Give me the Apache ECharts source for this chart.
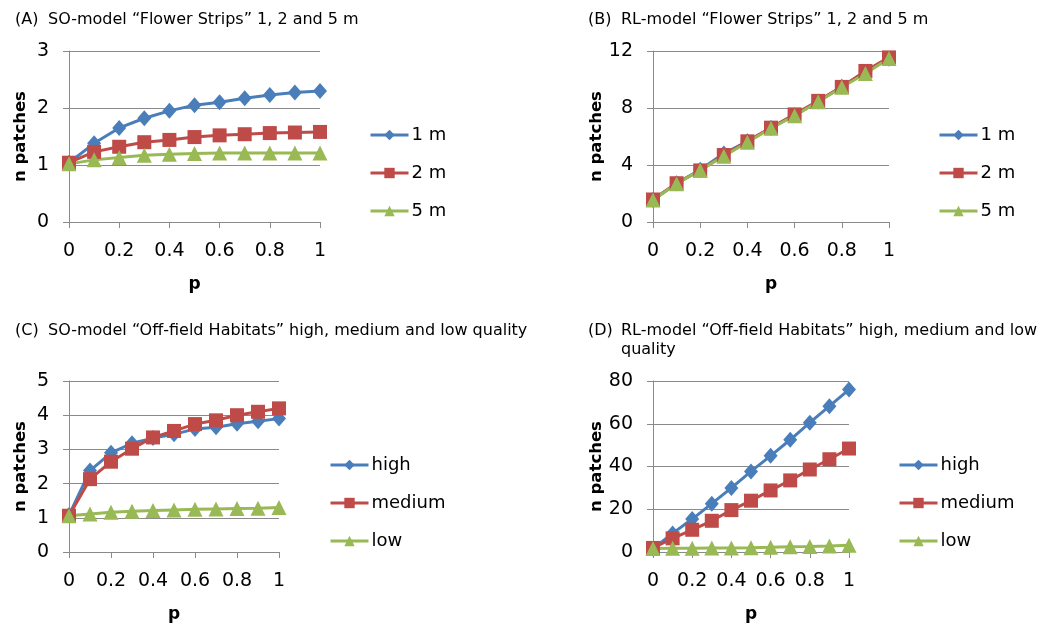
<!DOCTYPE html>
<html>
<head>
<meta charset="utf-8">
<script src="https://cdn.jsdelivr.net/npm/echarts@6/dist/echarts.min.js"></script>
<style>
  html, body { margin: 0; padding: 0; background: #fff; }
  #chart { width: 1051px; height: 625px; }
</style>
</head>
<body>
<div id="chart"></div>
<script>
var p = [0, 0.1, 0.2, 0.3, 0.4, 0.5, 0.6, 0.7, 0.8, 0.9, 1]

// (A) SO-model flower strips
var soStrip1 = [1.04, 1.38, 1.65, 1.82, 1.95, 2.05, 2.1, 2.17, 2.23, 2.27, 2.3]
var soStrip2 = [1.04, 1.23, 1.32, 1.4, 1.44, 1.49, 1.52, 1.54, 1.56, 1.57, 1.58]
var soStrip5 = [1.02, 1.09, 1.13, 1.17, 1.19, 1.2, 1.21, 1.21, 1.21, 1.21, 1.21]

// (B) RL-model flower strips
var rlStrip1 = [1.55, 2.72, 3.66, 4.8, 5.66, 6.6, 7.5, 8.45, 9.5, 10.55, 11.45]
var rlStrip2 = [1.58, 2.72, 3.62, 4.7, 5.66, 6.62, 7.55, 8.5, 9.48, 10.6, 11.55]
var rlStrip5 = [1.55, 2.68, 3.64, 4.62, 5.6, 6.58, 7.46, 8.44, 9.46, 10.42, 11.48]

// (C) SO-model off-field habitats
var soHigh = [1.08, 2.38, 2.9, 3.18, 3.33, 3.44, 3.6, 3.65, 3.75, 3.82, 3.9]
var soMedium = [1.06, 2.13, 2.64, 3.02, 3.35, 3.54, 3.74, 3.85, 4.0, 4.1, 4.2]
var soLow = [1.06, 1.11, 1.16, 1.19, 1.21, 1.23, 1.25, 1.26, 1.27, 1.28, 1.3]

// (D) RL-model off-field habitats
var rlHigh = [1.5, 8.7, 15.4, 22.6, 30.0, 37.7, 45.0, 52.5, 60.5, 68.2, 76.0]
var rlMedium = [1.9, 6.4, 10.4, 14.6, 19.6, 24.0, 28.8, 33.5, 38.6, 43.4, 48.4]
var rlLow = [1.6, 1.7, 1.7, 1.9, 1.9, 2.0, 2.2, 2.5, 2.6, 2.8, 3.1]

var yMax = [3, 12, 5, 80]
var yStep = [1, 4, 1, 20]

var stripNames = ['1 m', '2 m', '5 m']
var habitatNames = ['high', 'medium', 'low']

var BLUE = '#4a7ebb'
var RED = '#be4b48'
var GREEN = '#98b954'
var AXIS = '#8a8a8a'
var FONT = 'DejaVu Sans'

var grids = [
  { left: 69, top: 51, width: 251, height: 171 },
  { left: 653, top: 51, width: 236, height: 171 },
  { left: 69, top: 381, width: 210, height: 171 },
  { left: 653, top: 381, width: 196, height: 171 }
]

var pairs = function (vals) {
  return vals.map(function (v, i) { return [p[i], v] })
}

var xAxes = grids.map(function (g, i) {
  return {
    type: 'value',
    gridIndex: i,
    min: 0,
    max: 1,
    interval: 0.2,
    name: 'p',
    nameLocation: 'middle',
    nameGap: 54,
    nameTextStyle: { fontFamily: FONT, fontWeight: 'bold', fontSize: 17, color: '#000' },
    axisLine: { show: true, lineStyle: { color: AXIS, width: 1 } },
    axisTick: { show: true, length: 6, lineStyle: { color: AXIS } },
    axisLabel: { margin: 20, fontFamily: FONT, fontSize: 19, color: '#000' },
    splitLine: { show: false }
  }
})

var yAxes = grids.map(function (g, i) {
  return {
    type: 'value',
    gridIndex: i,
    min: 0,
    max: yMax[i],
    interval: yStep[i],
    name: 'n patches',
    nameLocation: 'middle',
    nameGap: 40,
    nameTextStyle: { fontFamily: FONT, fontWeight: 'bold', fontSize: 16.5, color: '#000' },
    axisLine: { show: true, lineStyle: { color: AXIS, width: 1 } },
    axisTick: { show: true, length: 6, lineStyle: { color: AXIS } },
    axisLabel: { margin: 20, fontFamily: FONT, fontSize: 19, color: '#000' },
    splitLine: { show: true, lineStyle: { color: AXIS, width: 1 } }
  }
})

var makeSeries = function (name, vals, idx, color, symbol, size) {
  return {
    name: name,
    type: 'line',
    xAxisIndex: idx,
    yAxisIndex: idx,
    data: pairs(vals),
    symbol: symbol,
    symbolSize: size,
    showSymbol: true,
    lineStyle: { color: color, width: 3 },
    itemStyle: { color: color },
    emphasis: { disabled: true },
    animation: false
  }
}

var series = [
  makeSeries('1 m', soStrip1, 0, BLUE, 'diamond', [14, 16]),
  makeSeries('2 m', soStrip2, 0, RED, 'rect', 14),
  makeSeries('5 m', soStrip5, 0, GREEN, 'triangle', 15),
  makeSeries('1 m', rlStrip1, 1, BLUE, 'diamond', [14, 16]),
  makeSeries('2 m', rlStrip2, 1, RED, 'rect', 14),
  makeSeries('5 m', rlStrip5, 1, GREEN, 'triangle', 15),
  makeSeries('high', soHigh, 2, BLUE, 'diamond', [14, 16]),
  makeSeries('medium', soMedium, 2, RED, 'rect', 14),
  makeSeries('low', soLow, 2, GREEN, 'triangle', 15),
  makeSeries('high', rlHigh, 3, BLUE, 'diamond', [14, 16]),
  makeSeries('medium', rlMedium, 3, RED, 'rect', 14),
  makeSeries('low', rlLow, 3, GREEN, 'triangle', 15)
]

var legendAt = function (names, left, top) {
  return {
    data: names,
    orient: 'vertical',
    left: left,
    top: top,
    padding: 0,
    itemWidth: 38,
    itemHeight: 13,
    itemGap: 20,
    selectedMode: false,
    lineStyle: { width: 3 },
    textStyle: { fontFamily: FONT, fontSize: 18, color: '#000', padding: [0, 0, 0, -2] }
  }
}

var titleStyle = { fontFamily: FONT, fontSize: 16, fontWeight: 'normal', color: '#000', lineHeight: 19 }
var titleAt = function (text, left, top) {
  return { text: text, left: left, top: top, padding: 0, textStyle: titleStyle }
}

var option = {
  animation: false,
  title: [
    titleAt('(A)', 15, 10),
    titleAt('SO-model \u201cFlower Strips\u201d 1, 2 and 5 m', 48, 10),
    titleAt('(B)', 588, 10),
    titleAt('RL-model \u201cFlower Strips\u201d 1, 2 and 5 m', 621, 10),
    titleAt('(C)', 15, 321),
    titleAt('SO-model \u201cOff-field Habitats\u201d high, medium and low quality', 48, 321),
    titleAt('(D)', 588, 321),
    titleAt('RL-model \u201cOff-field Habitats\u201d high, medium and low\nquality', 621, 321)
  ],
  legend: [
    legendAt(stripNames, 369, 126),
    legendAt(stripNames, 938, 126),
    legendAt(habitatNames, 329, 456),
    legendAt(habitatNames, 898, 456)
  ],
  grid: grids,
  xAxis: xAxes,
  yAxis: yAxes,
  series: series
}

var myChart = echarts.init(document.getElementById('chart'), null, { renderer: 'canvas' })
myChart.setOption(option)
</script>
</body>
</html>
